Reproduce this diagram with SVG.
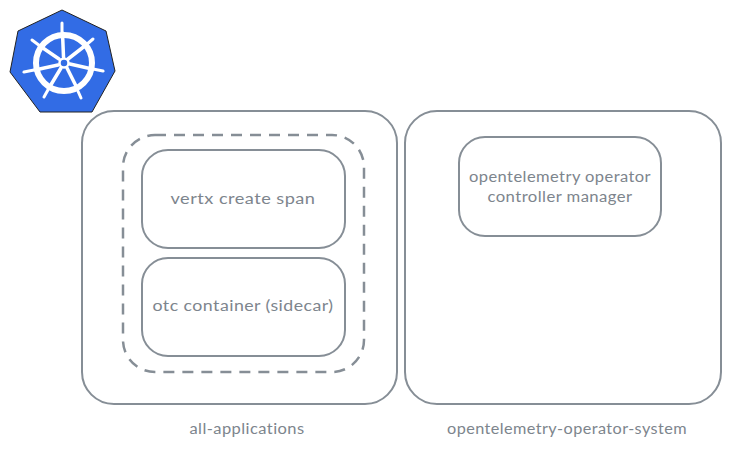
<svg xmlns="http://www.w3.org/2000/svg" width="730" height="449" viewBox="0 0 730 449">
<style>
.box{fill:#fff;stroke:#868e96;stroke-width:2}
.dash{fill:none;stroke:#868e96;stroke-width:2.5;stroke-dasharray:11 8}
text{font-family:"Lato","Liberation Sans",sans-serif;font-size:15.5px;fill:#7d858d;text-anchor:middle;letter-spacing:.4px}
.w{stroke:#fff;stroke-linecap:round;fill:none}
</style>
<rect width="730" height="449" fill="#fff"/>
<g id="kubernetes-logo">
<polygon points="62,10 106,31 115,71 92,112 40,112 10,72 18,31" fill="#326ce5" stroke="#222" stroke-width="1" stroke-linejoin="round"/>
<circle cx="64" cy="63" r="28" class="w" stroke-width="6"/>
<g class="w" stroke-width="3.500">
<path d="M62.500 33 L63.500 57"/><path d="M40 46 L59 59"/><path d="M35 70 L58 65"/><path d="M49 88 L61 68"/><path d="M77 88 L67 68"/><path d="M92 69 L70 64"/><path d="M86 45 L68 59"/>
</g>
<g class="w" stroke-width="3"><path d="M62 23 L62 34"/><path d="M32 40 L40 46"/><path d="M24 72 L34 70"/><path d="M44 97 L49 88"/><path d="M81 98 L77 89"/><path d="M103 71 L93 69"/><path d="M93 39 L86 45"/></g>
<circle cx="64" cy="63" r="4.500" fill="#326ce5" stroke="#fff" stroke-width="2.500"/>
</g>
<g id="all-applications">
<rect class="box" x="82" y="111" width="315" height="293" rx="32"/>
<text x="247" y="434" textLength="115" lengthAdjust="spacingAndGlyphs">all-applications</text>
</g>
<g id="pod-group"><rect class="dash" x="123" y="135" width="241" height="237" rx="32"/></g>
<g id="vertx">
<rect class="box" x="142" y="150" width="203" height="98" rx="26"/>
<text x="243" y="204" textLength="145" lengthAdjust="spacingAndGlyphs">vertx create span</text>
</g>
<g id="otc">
<rect class="box" x="142" y="258" width="203" height="98" rx="26"/>
<text x="243" y="311" textLength="181" lengthAdjust="spacingAndGlyphs">otc container (sidecar)</text>
</g>
<g id="opentelemetry-operator-system">
<rect class="box" x="405" y="111" width="316" height="293" rx="32"/>
<text x="567" y="434" textLength="240" lengthAdjust="spacingAndGlyphs">opentelemetry-operator-system</text>
</g>
<g id="controller-manager">
<rect class="box" x="459" y="137" width="202" height="99" rx="26"/>
<text x="560" y="182" textLength="182" lengthAdjust="spacingAndGlyphs">opentelemetry operator</text>
<text x="560" y="202" textLength="145" lengthAdjust="spacingAndGlyphs">controller manager</text>
</g>
</svg>
